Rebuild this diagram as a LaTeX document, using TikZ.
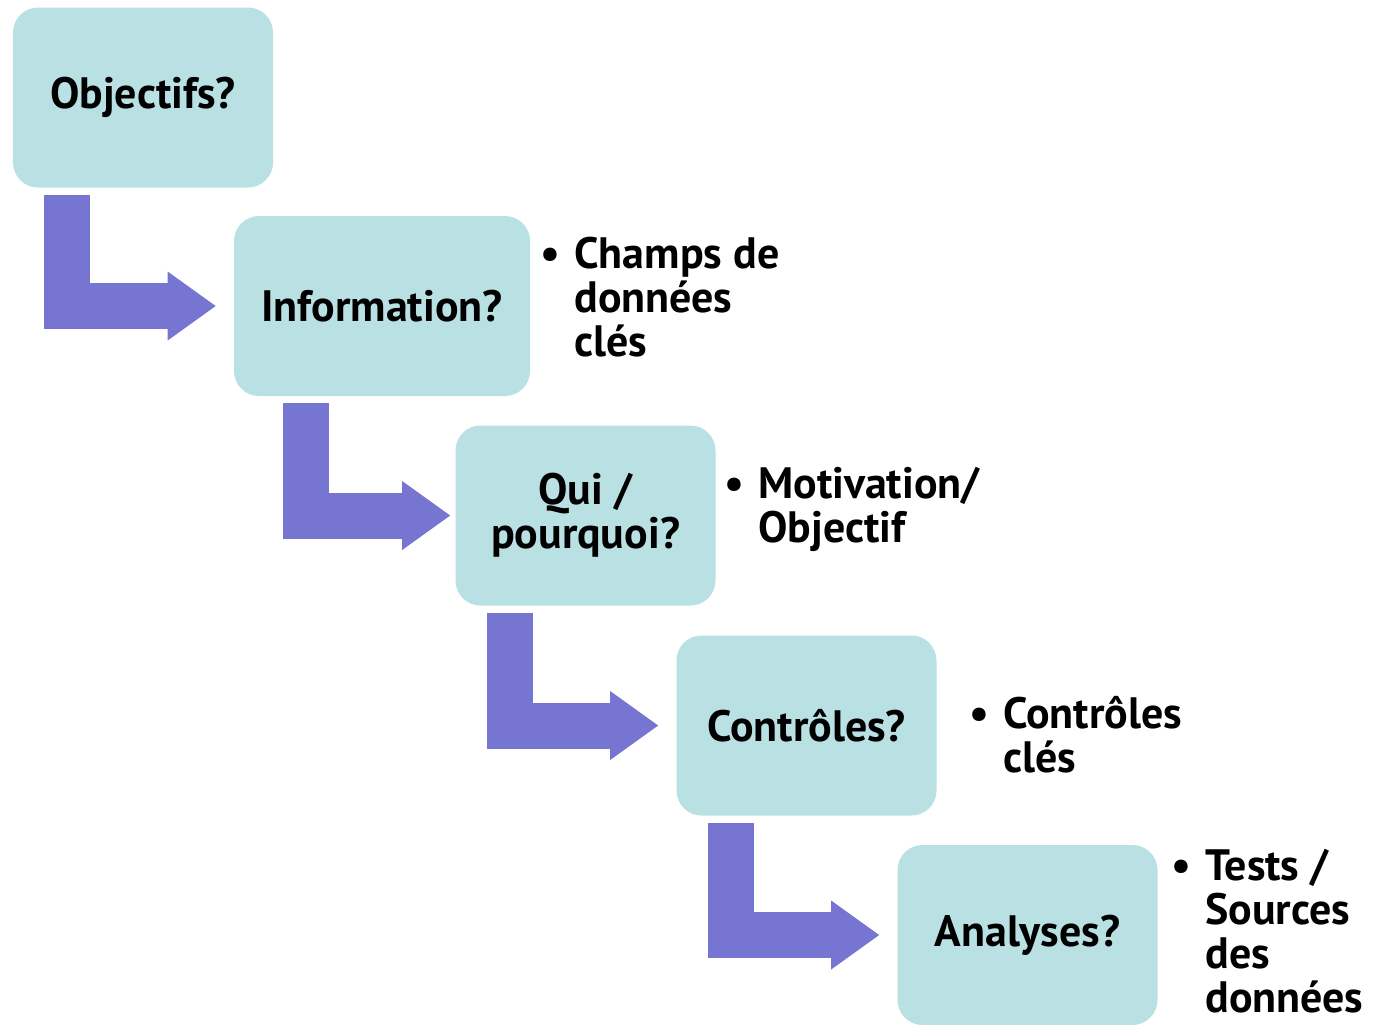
\documentclass[tikz,border=0pt]{standalone}
\usepackage{fontspec}
\setmainfont{PT Sans}
\usepackage{tikz}
\usetikzlibrary{arrows.meta}
\definecolor{boxfill}{HTML}{B9E0E3}
\definecolor{arrowfill}{HTML}{7675D1}
\tikzset{stepbox/.style={rectangle,rounded corners=5mm,fill=boxfill,minimum width=52mm,minimum height=36mm,inner sep=0pt,align=center,font=\fontsize{25}{25}\selectfont\bfseries},
  note/.style={anchor=north west,inner sep=0pt,align=left,font=\fontsize{25}{25}\selectfont\bfseries},
  steparrow/.style={draw=arrowfill,line width=9.2mm,line join=miter,-{Triangle[length=9.6mm,width=13.8mm,line width=0pt]}}}

\begin{document}
\begin{tikzpicture}[x=0.2mm,y=-0.2mm]
\useasboundingbox (0,0) rectangle (1373,1024);
% the five steps
\node[stepbox] (obj) at (143,97.5) {Objectifs?};
\node[stepbox,minimum width=59.2mm] (info) at (382,306) {Information?};
\node[stepbox] (qui) at (585.5,515.5) {Qui /\\pourquoi?};
\node[stepbox] (ctrl) at (806.5,725.5) {Contrôles?};
\node[stepbox] (ana) at (1027.5,935) {Analyses?};
% bent arrows from one step down to the next
\draw[steparrow] ([xshift=-15.2mm,yshift=-1.4mm]obj.south) |- ([xshift=-3.6mm]info.west);
\draw[steparrow] ([xshift=-15.2mm,yshift=-1.4mm]info.south) |- ([xshift=-1mm]qui.west);
\draw[steparrow] ([xshift=-15.2mm,yshift=-1.4mm]qui.south) |- ([xshift=-3.6mm]ctrl.west);
\draw[steparrow] ([xshift=-15.2mm,yshift=-1.4mm]ctrl.south) |- ([xshift=-3.6mm]ana.west);
% notes beside the steps
\node[note] (champs) at (574,237) {\llap{\textbullet\hspace{8pt}}Champs de\\données\\clés};
\node[note] (motiv) at (758,467) {\llap{\textbullet\hspace{8pt}}Motivation/\\Objectif};
\node[note] (cles) at (1003,696) {\llap{\textbullet\hspace{8pt}}Contrôles\\clés};
\node[note] (tests) at (1205,849) {\llap{\textbullet\hspace{8pt}}Tests /\\Sources\\des\\données};
\end{tikzpicture}
\end{document}
